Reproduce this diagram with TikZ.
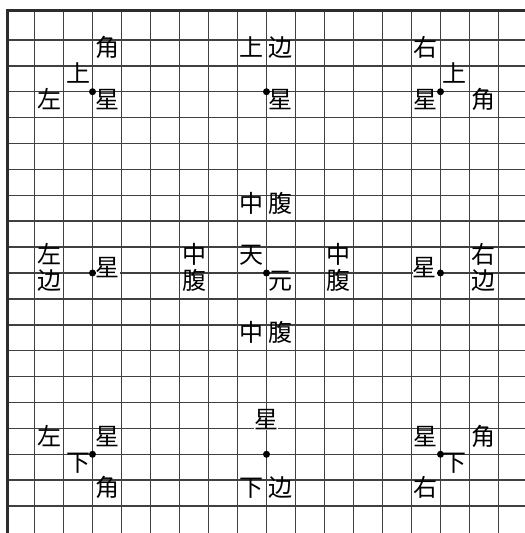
\documentclass[tikz,border=0pt]{standalone}
\usepackage{fontspec}
\newfontfamily\cjk{Noto Sans CJK SC}
\definecolor{boardgray}{HTML}{404040}
\tikzset{
  gridln/.style={boardgray, line width=1.5pt},
  edgeln/.style={boardgray!70!black, line width=3pt},
  lbl/.style={font=\cjk\fontsize{24}{24}\selectfont, inner sep=0pt, text height=0.83em, text depth=0.07em, fill=white},
  hoshi/.style={circle, fill=black, inner sep=0pt, minimum size=7pt}
}
\begin{document}
\begin{tikzpicture}[x=29pt, y=-25.9pt]
  \def\bw{17.914} \def\bh{20.04} \def\tp{-0.135} \def\lft{0.052}
  \useasboundingbox (-0.19,-0.5405) rectangle (\bw,\bh);
  \foreach \r in {1,...,19} { \draw[gridln] (\lft,\r) -- (\bw,\r); }
  \foreach \c in {1,...,17} { \draw[gridln] (\c,\tp) -- (\c,\bh); }
  \draw[edgeln] (\lft,\bh) -- (\lft,\tp) -- (\bw,\tp);
  \foreach \n/\c/\r in {tl/3/3, tc/9/3, tr/15/3, ml/3/10, cc/9/10, mr/15/10, bl/3/17, bc/9/17, br/15/17}
    { \node[hoshi] (hoshi-\n) at (\c,\r) {}; }
  \foreach \n/\c/\r/\t in {
      tl-jiao/3.5/1.5/角, tl-shang/2.5/2.5/上, tl-zuo/1.5/3.5/左, tl-xing/3.5/3.5/星,
      tc-shang/8.5/1.5/上, tc-bian/9.5/1.5/边, tc-xing/9.5/3.5/星,
      tr-you/14.5/1.5/右, tr-shang/15.5/2.5/上, tr-xing/14.5/3.5/星, tr-jiao/16.5/3.5/角,
      ml-zuo/1.5/9.5/左, ml-bian/1.5/10.5/边, ml-xing/3.52/10/星,
      cc-zhong-t/8.5/7.5/中, cc-fu-t/9.5/7.5/腹,
      cc-zhong-l/6.5/9.5/中, cc-fu-l/6.5/10.5/腹,
      cc-tian/8.5/9.5/天, cc-yuan/9.5/10.5/元,
      cc-zhong-r/11.5/9.5/中, cc-fu-r/11.5/10.5/腹,
      cc-zhong-b/8.5/12.5/中, cc-fu-b/9.5/12.5/腹,
      mr-xing/14.45/10/星, mr-you/16.5/9.5/右, mr-bian/16.5/10.5/边,
      bl-zuo/1.5/16.5/左, bl-xing/3.5/16.5/星, bl-xia/2.5/17.5/下, bl-jiao/3.5/18.5/角,
      bc-xing/9/15.87/星, bc-xia/8.5/18.5/下, bc-bian/9.5/18.5/边,
      br-xing/14.5/16.5/星, br-jiao/16.5/16.5/角, br-xia/15.5/17.5/下, br-you/14.5/18.5/右}
    { \node[lbl] (\n) at (\c,\r) {\t}; }
\end{tikzpicture}
\end{document}
